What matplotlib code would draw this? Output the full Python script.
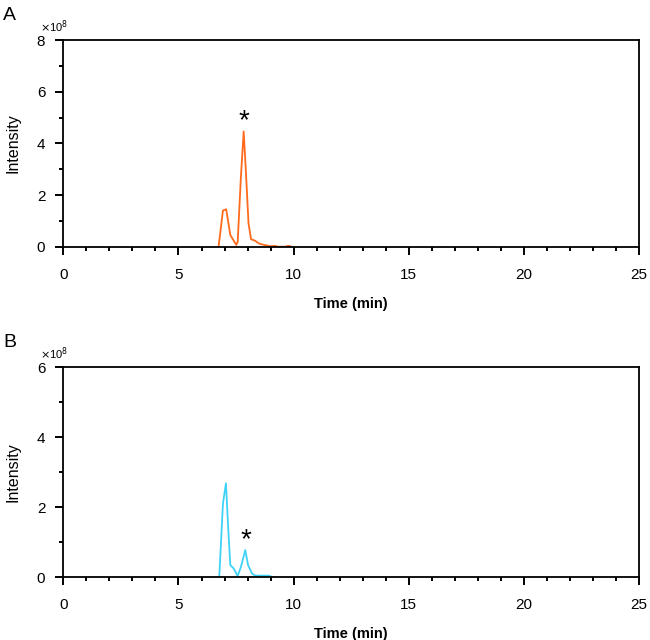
import matplotlib
matplotlib.use("Agg")
import matplotlib.pyplot as plt
from matplotlib.ticker import MultipleLocator

plt.rcParams['font.family'] = ['Liberation Sans', 'DejaVu Sans']

# chromatogram A (orange), intensity in units of 1e8
time_a = [6.74, 6.93, 7.07, 7.25, 7.51, 7.57, 7.71, 7.83, 7.93, 8.04, 8.15,
          8.33, 8.48, 8.63, 8.77, 9.0, 9.15, 9.22, 9.3, 9.65, 9.72, 9.8, 9.9]
intensity_a = [0, 1.40, 1.45, 0.45, 0.07, 0.19, 2.71, 4.46, 2.84, 0.9, 0.29,
               0.23, 0.13, 0.09, 0.06, 0.02, 0.03, 0.03, 0, 0, 0.03, 0.03, 0]

# chromatogram B (cyan)
time_b = [6.77, 6.93, 7.06, 7.17, 7.25, 7.39, 7.57, 7.71, 7.9, 8.02, 8.19,
          8.33, 8.91, 9.1]
intensity_b = [0, 2.1, 2.68, 1.25, 0.34, 0.25, 0.03, 0.29, 0.77, 0.34, 0.1,
               0.04, 0.04, 0]

star_a = (7.83, 4.87)
star_b = (7.93, 1.06)

fig = plt.figure(figsize=(6.5, 6.4), dpi=100)
ax1 = fig.add_axes([0.0974, 0.6145, 0.886, 0.323])
ax2 = fig.add_axes([0.0974, 0.0984, 0.886, 0.328])

panels = [
    (ax1, time_a, intensity_a, '#FF6A1C', 8, star_a, 'A'),
    (ax2, time_b, intensity_b, '#3ED2F7', 6, star_b, 'B'),
]

for ax, t, y, col, ymax, star, lab in panels:
    ax.plot(t, y, color=col, lw=1.3)
    ax.set_xlim(0, 25)
    ax.set_ylim(0, ymax)
    ax.xaxis.set_major_locator(MultipleLocator(5))
    ax.xaxis.set_minor_locator(MultipleLocator(1))
    ax.yaxis.set_major_locator(MultipleLocator(2))
    ax.yaxis.set_minor_locator(MultipleLocator(1))
    ax.tick_params(which='major', direction='out', length=6, width=1.4,
                   labelsize=11, pad=9)
    ax.tick_params(which='minor', direction='out', length=3, width=1.4)
    ax.tick_params(axis='y', pad=7)
    for s in ax.spines.values():
        s.set_linewidth(1.3)
    ax.set_xlabel('Time (min)', fontsize=10.5, fontweight='semibold', labelpad=11)
    ax.set_ylabel('Intensity', fontsize=11.5, labelpad=12)
    ax.text(star[0], star[1], '*', fontsize=20, ha='center', va='center')
    ax.text(-0.04, 1.025, r'$\times$10$^{8}$', transform=ax.transAxes,
            fontsize=8, ha='left', va='bottom')
    ax.text(-0.093, 1.075, lab, transform=ax.transAxes, fontsize=14,
            ha='center', va='bottom')

fig.savefig('out.png', dpi=100)
